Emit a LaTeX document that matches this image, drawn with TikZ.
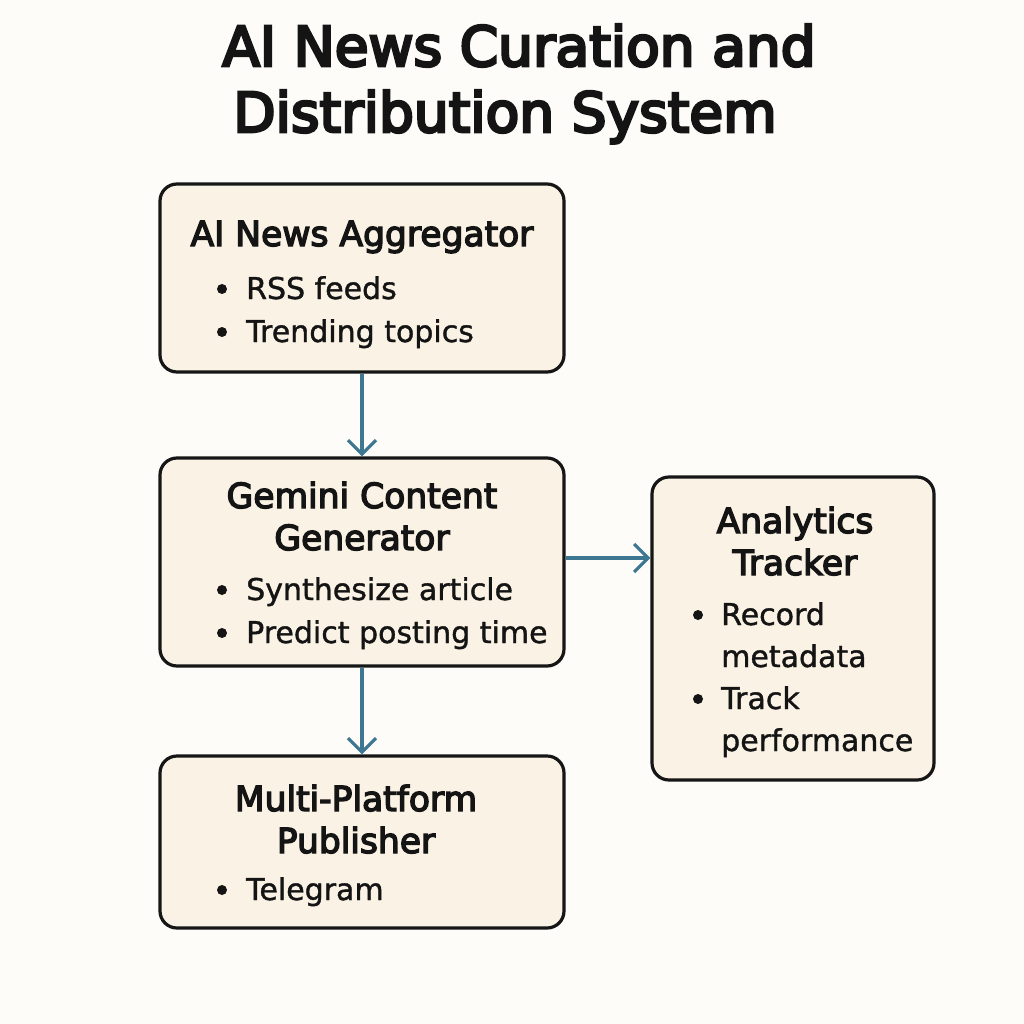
\documentclass[tikz,border=0pt]{standalone}
\usepackage{fontspec}
\setmainfont{DejaVu Sans}
\newfontfamily\bodyfont[FakeBold=1.2]{DejaVu Sans}
\newfontfamily\hdfont[FakeBold=4]{DejaVu Sans}
\newfontfamily\ttlfont[FakeBold=5]{DejaVu Sans}
\usetikzlibrary{arrows.meta}
\definecolor{bgc}{HTML}{FDFCF9}
\definecolor{boxfill}{HTML}{FAF3E5}
\definecolor{boxline}{HTML}{161616}
\definecolor{arrowc}{HTML}{3E7791}
\definecolor{txt}{HTML}{141414}
\tikzset{
  box/.style={draw=boxline, fill=boxfill, line width=3.2pt, rounded corners=17pt, inner sep=0pt},
  ttl/.style={anchor=base, inner sep=0pt, text=txt, font=\ttlfont\fontsize{55}{60}\selectfont},
  head/.style={anchor=base, inner sep=0pt, text=txt, font=\hdfont\fontsize{34.5}{40}\selectfont},
  item/.style={anchor=base west, inner sep=0pt, text=txt, font=\bodyfont\fontsize{30}{36}\selectfont},
  dot/.style={circle, fill=txt, inner sep=0pt, minimum size=10pt},
  flow/.style={draw=arrowc, line width=3.2pt, -{Straight Barb[length=14pt,width=28pt,line width=3.2pt]}}
}
\begin{document}
\begin{tikzpicture}[x=1pt,y=-1pt]
\path[fill=bgc] (0,0) rectangle (1024,1024);
\useasboundingbox (0,0) rectangle (1024,1024);

% title
\node[ttl] (t1) at (519,66) {AI News Curation and};
\node[ttl] (t2) at (505,132) {Distribution System};

% boxes
\node[box, minimum width=404pt, minimum height=188pt] (agg) at (362,278) {};
\node[box, minimum width=404pt, minimum height=208pt] (gen) at (362,562) {};
\node[box, minimum width=404pt, minimum height=172pt] (pub) at (362,842) {};
\node[box, minimum width=282pt, minimum height=303pt] (ana) at (793,628.5) {};

% box 1
\node[head] (aggh) at (362,246) {AI News Aggregator};
\node[dot] (aggb1) at (222,289) {};
\node[item] (aggi1) at (246,299) {RSS feeds};
\node[dot] (aggb2) at (222,332) {};
\node[item] (aggi2) at (246,342) {Trending topics};

% box 2
\node[head] (genh1) at (362,508) {Gemini Content};
\node[head] (genh2) at (362,550) {Generator};
\node[dot] (genb1) at (222,590) {};
\node[item] (geni1) at (246,600) {Synthesize article};
\node[dot] (genb2) at (222,633) {};
\node[item] (geni2) at (246,643) {Predict posting time};

% box 3
\node[head] (pubh1) at (356,811) {Multi-Platform};
\node[head] (pubh2) at (356,853) {Publisher};
\node[dot] (pubb1) at (222,890) {};
\node[item] (pubi1) at (246,900) {Telegram};

% box 4
\node[head] (anah1) at (795,533) {Analytics};
\node[head] (anah2) at (795,575) {Tracker};
\node[dot] (anab1) at (698,615) {};
\node[item] (anai1) at (721,625) {Record};
\node[item] (anai2) at (721,667) {metadata};
\node[dot] (anab2) at (698,699) {};
\node[item] (anai3) at (721,709) {Track};
\node[item] (anai4) at (721,751) {performance};

% connectors
\draw[flow] (agg.south) -- (gen.north);
\draw[flow] (gen.south) -- (pub.north);
\draw[flow] (gen.east |- 0,558) -- (ana.west |- 0,558);
\end{tikzpicture}
\end{document}
